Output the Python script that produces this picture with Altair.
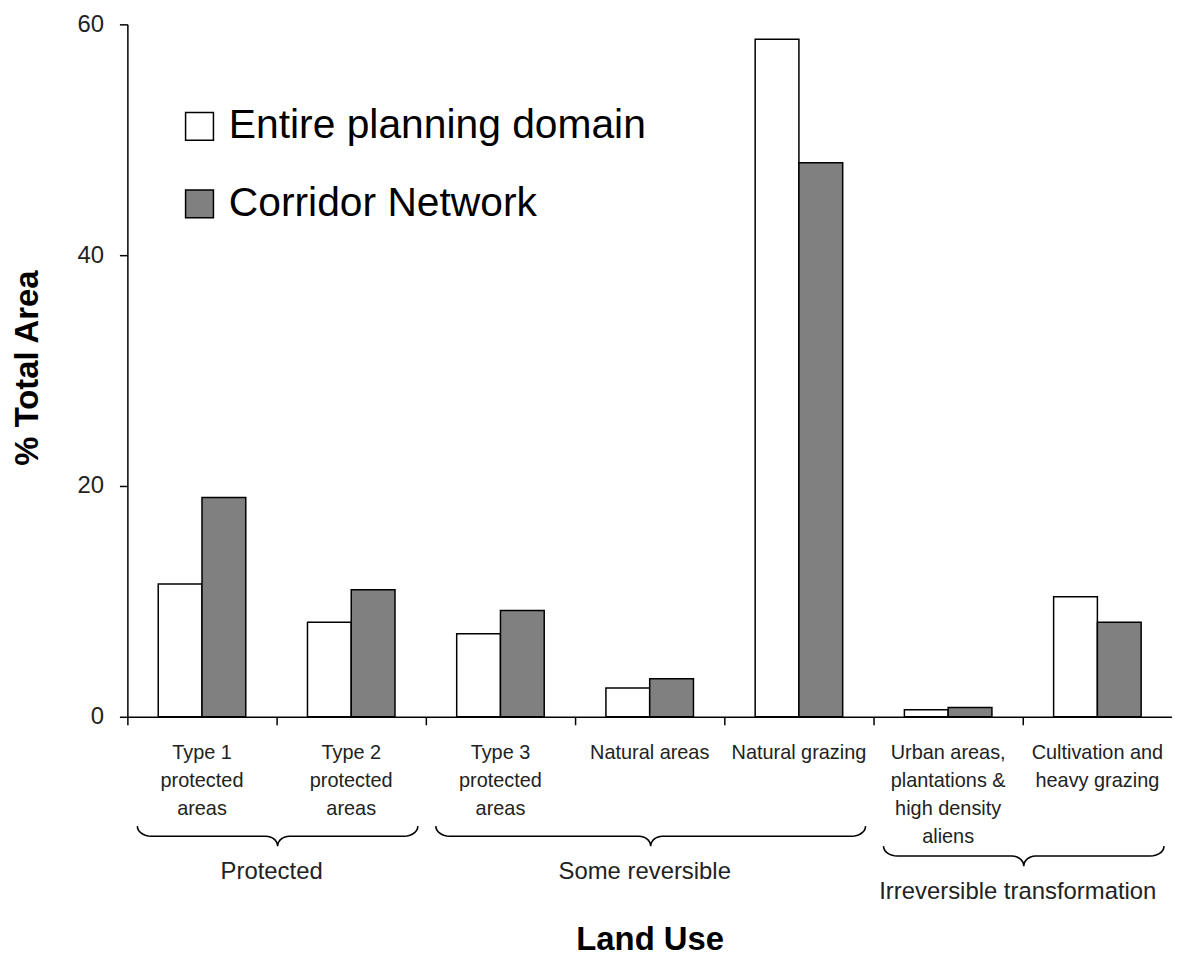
import altair as alt
import numpy as np
import pandas as pd

# ---------------- data ----------------
categories = [
    "Type 1|protected|areas",
    "Type 2|protected|areas",
    "Type 3|protected|areas",
    "Natural areas",
    "Natural grazing",
    "Urban areas,|plantations &|high density|aliens",
    "Cultivation and|heavy grazing",
]
series = ["Entire planning domain", "Corridor Network"]
entire = [11.5, 8.2, 7.2, 2.5, 58.7, 0.6, 10.4]
corridor = [19.0, 11.0, 9.2, 3.3, 48.0, 0.8, 8.2]
y_ticks = [0, 20, 40, 60]

group_names = ["Protected", "Some reversible", "Irreversible transformation"]
group_start = [0, 2, 5]   # first category index of group
group_end = [2, 5, 7]     # one past last category index

# ---------------- layout ----------------
W, H = 1050, 696
STEP = W / len(categories)
FONT = "Liberation Sans"

rows = []
for i, c in enumerate(categories):
    rows.append({"category": c, "series": series[0], "value": entire[i]})
    rows.append({"category": c, "series": series[1], "value": corridor[i]})
df = pd.DataFrame(rows)

# brace geometry (annotation layer, in pixel units of the plot area)
def brace_points(a, b, line_y, ry=10, rx=14, rxc=12):
    c = (a + b) / 2
    t = np.linspace(0, np.pi / 2, 8)
    pts = []
    pts += list(zip(a + rx - rx * np.cos(t), line_y - ry + ry * np.sin(t)))
    pts += list(zip(c - rxc + rxc * np.sin(t), line_y + ry - ry * np.cos(t)))
    pts += list(zip(c + rxc - rxc * np.sin(t[::-1]), line_y + ry - ry * np.cos(t[::-1])))
    pts += list(zip(b - rx + rx * np.cos(t[::-1]), line_y - ry + ry * np.sin(t[::-1])))
    return pts

brace_rows, label_rows = [], []
for g, name in enumerate(group_names):
    n_lines = max(len(categories[k].split("|")) for k in range(group_start[g], group_end[g]))
    line_y = H + 120 + 20 * (n_lines - 3)
    a = group_start[g] * STEP + 10
    b = group_end[g] * STEP - 8
    for j, (px, py) in enumerate(brace_points(a, b, line_y)):
        brace_rows.append({"group": name, "order": j, "px": px, "py": py})
    label_rows.append({"group": name, "px": (group_start[g] + group_end[g]) / 2 * STEP - 5,
                       "py": line_y + 43})
brace_df = pd.DataFrame(brace_rows)
label_df = pd.DataFrame(label_rows)

# ---------------- bars ----------------
bars = alt.Chart(df).mark_bar(stroke="black", strokeWidth=1.5).encode(
    x=alt.X(
        "category:N",
        sort=categories,
        scale=alt.Scale(paddingInner=0, paddingOuter=0),
        axis=alt.Axis(
            title="Land Use",
            titleFontSize=33,
            titleFontWeight="bold",
            titleColor="black",
            titleX=W / 2,
            titleY=234,
            titleBaseline="alphabetic",
            labelExpr="split(datum.label, '|')",
            labelAngle=0,
            labelFontSize=20,
            labelLineHeight=28,
            labelPadding=18,
            labelColor="#222",
            labelOverlap=False,
            labelLimit=400,
            bandPosition=0,
            tickSize=8,
            tickColor="black",
            tickWidth=1.5,
            domainColor="black",
            domainWidth=1.5,
            grid=False,
        ),
    ),
    xOffset=alt.XOffset("series:N", sort=series,
                        scale=alt.Scale(paddingOuter=0.705, paddingInner=0)),
    y=alt.Y(
        "value:Q",
        scale=alt.Scale(domain=[0, 60], nice=False, zero=True),
        axis=alt.Axis(
            values=y_ticks,
            title="% Total Area",
            titleFontSize=33,
            titleFontWeight="bold",
            titleColor="black",
            titleAngle=270,
            titleX=-100,
            titleY=345,
            titleBaseline="middle",
            titleAlign="center",
            labelFontSize=24,
            labelColor="#222",
            labelPadding=16,
            tickSize=8,
            tickColor="black",
            tickWidth=1.5,
            domainColor="black",
            domainWidth=1.5,
            grid=False,
        ),
    ),
    fill=alt.Fill(
        "series:N",
        sort=series,
        scale=alt.Scale(domain=series, range=["white", "#808080"]),
        legend=alt.Legend(
            title=None,
            orient="none",
            legendX=52,
            legendY=82,
            direction="vertical",
            symbolType="square",
            symbolSize=784,
            symbolStrokeColor="black",
            symbolStrokeWidth=1.5,
            labelFontSize=41,
            labelColor="black",
            labelOffset=9,
            labelLimit=700,
            rowPadding=36,
            padding=0,
        ),
    ),
)

# ---------------- annotation layer (braces + group labels) ----------------
px_x = alt.Scale(domain=[0, W], nice=False, zero=False)
px_y = alt.Scale(domain=[H, 0], nice=False, zero=False)

braces = alt.Chart(brace_df).mark_line(color="black", strokeWidth=1.6).encode(
    x=alt.X("px:Q", scale=px_x, axis=None),
    y=alt.Y("py:Q", scale=px_y, axis=None),
    detail="group:N",
    order="order:Q",
)

glabels = alt.Chart(label_df).mark_text(
    fontSize=24, color="#222", baseline="alphabetic", align="center", font=FONT
).encode(
    x=alt.X("px:Q", scale=px_x, axis=None),
    y=alt.Y("py:Q", scale=px_y, axis=None),
    text="group:N",
)

annot = alt.layer(braces, glabels)

chart = (
    alt.layer(bars, annot)
    .resolve_scale(x="independent", y="independent")
    .properties(
        width=W,
        height=H,
        autosize=alt.AutoSizeParams(type="none"),
        padding={"left": 120, "top": 14, "right": 0, "bottom": 238},
        background="white",
    )
    .configure(font=FONT)
    .configure_view(stroke=None)
)

chart.save("out.html", embed_options={"renderer": "svg", "actions": False})
